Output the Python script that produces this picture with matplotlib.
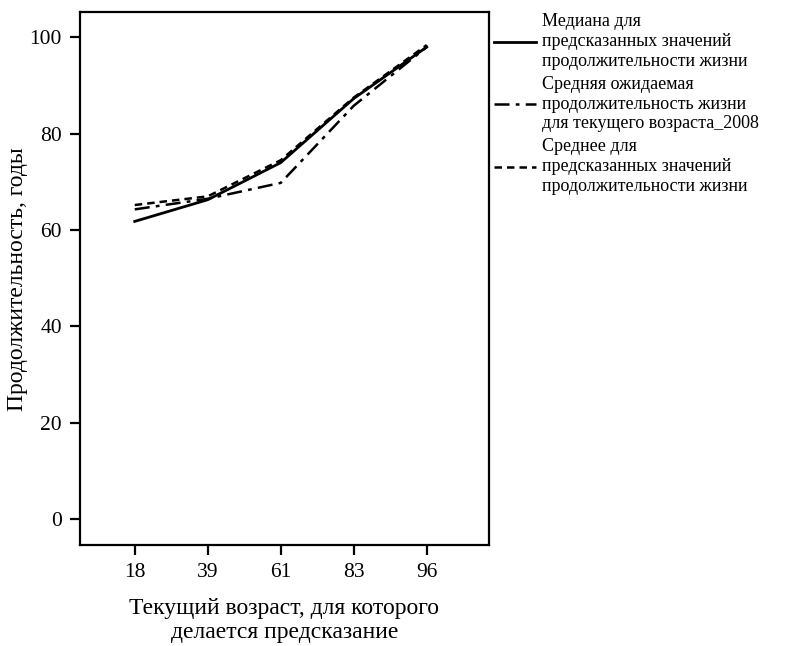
import matplotlib.pyplot as plt

plt.rcParams['font.family'] = ['Liberation Serif', 'DejaVu Serif']

ages = ['18', '39', '61', '83', '96']
median_pred = [61.8, 66.3, 74.0, 87.3, 98.0]
expected_2008 = [64.3, 66.5, 69.8, 85.8, 98.0]
mean_pred = [65.2, 67.0, 74.5, 87.5, 98.4]

labels = [
    'Медиана для\nпредсказанных значений\nпродолжительности жизни',
    'Средняя ожидаемая\nпродолжительность жизни\nдля текущего возраста_2008',
    'Среднее для\nпредсказанных значений\nпродолжительности жизни',
]

fig = plt.figure(figsize=(8, 6.46), dpi=100)
ax = fig.add_axes([0.1, 0.156, 0.511, 0.825])

x = range(len(ages))
ax.plot(x, median_pred, color='black', linestyle='-', linewidth=2, label=labels[0])
ax.plot(x, expected_2008, color='black', linestyle=(0, (6, 2.5, 1.5, 2.5)), linewidth=1.8, label=labels[1])
ax.plot(x, mean_pred, color='black', linestyle=(0, (3, 2)), linewidth=1.8, label=labels[2])

ax.set_xticks(list(x))
ax.set_xticklabels(ages)
ax.set_yticks([0, 20, 40, 60, 80, 100])
ax.set_xlim(-0.75, 4.85)
ax.set_ylim(-5.4, 105.2)

for s in ax.spines.values():
    s.set_linewidth(1.6)
ax.tick_params(axis='both', direction='out', length=7, width=1.6, labelsize=15.5, pad=6)

ax.set_xlabel('Текущий возраст, для которого\nделается предсказание', fontsize=17, labelpad=11)
ax.set_ylabel('Продолжительность, годы', fontsize=17, labelpad=1)

ax.legend(loc='upper left', bbox_to_anchor=(1.0, 1.008), frameon=False, fontsize=13,
          handlelength=2.3, handletextpad=0.35, labelspacing=0.35, borderaxespad=0.2,
          borderpad=0.1)

fig.savefig('out.png', dpi=100)
